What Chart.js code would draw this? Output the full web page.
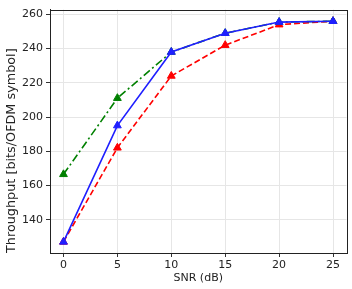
<!DOCTYPE html>
<html>
<head>
<meta charset="utf-8">
<script src="https://cdn.jsdelivr.net/npm/chart.js@4"></script>
<style>
  html, body { margin: 0; padding: 0; background: #fff; }
  #wrap { width: 352px; height: 289px; }
</style>
</head>
<body>
<div id="wrap"><canvas id="chart"></canvas></div>
<script>
// SNR points (dB)
const snr = [0, 5, 10, 15, 20, 25];
// throughput per curve [bits/OFDM symbol]
const blueVals = [127, 195, 238, 249, 255.5, 256];
const redVals = [127, 182, 224, 242, 254, 256];
const greenVals = [166.5, 211, 238, 249, 255.5, 256];
// tick labels
const yTicks = [140, 160, 180, 200, 220, 240, 260];
const xTicks = [0, 5, 10, 15, 20, 25];

const toPoints = vals => snr.map((x, i) => ({ x: x, y: vals[i] }));

const font = { family: 'DejaVu Sans', size: 11 };

// dark box round the plot area, like matplotlib spines
const frame = {
    id: 'frame',
    afterDraw(chart) {
        const a = chart.chartArea, c = chart.ctx;
        c.save();
        c.strokeStyle = '#222';
        c.lineWidth = 1;
        c.strokeRect(Math.round(a.left) + 0.5, Math.round(a.top) + 0.5,
            Math.round(a.right - a.left), Math.round(a.bottom - a.top));
        c.restore();
    }
};

// lower order is drawn on top
function line(label, vals, color, dash, order) {
    return {
        label: label,
        data: toPoints(vals),
        order: order,
        borderColor: color,
        backgroundColor: color,
        borderWidth: 1.6,
        borderDash: dash,
        pointStyle: 'triangle',
        pointRadius: 4.5,
        pointBorderWidth: 1,
        tension: 0
    };
}

new Chart(document.getElementById('chart').getContext('2d'), {
    type: 'scatter',
    data: {
        datasets: [
            line('red', redVals, '#ff0000', [6, 3], 3),
            line('green', greenVals, '#008000', [8, 3, 2, 3], 2),
            line('blue', blueVals, '#1f1fff', [], 1)
        ]
    },
    plugins: [frame],
    options: {
        responsive: true,
        maintainAspectRatio: false,
        animation: false,
        showLine: true,
        layout: { padding: { top: 3, right: 5, left: 0, bottom: 0 } },
        plugins: { legend: { display: false }, tooltip: { enabled: false } },
        scales: {
            x: {
                type: 'linear',
                min: -1.25,
                max: 26.25,
                afterBuildTicks: s => { s.ticks = xTicks.map(v => ({ value: v })); },
                afterFit: s => { s.height = 36; },
                ticks: { font: font, color: '#222', padding: 2, maxRotation: 0 },
                grid: { color: '#e6e6e6', tickColor: '#333', tickLength: 4 },
                border: { color: '#222' },
                title: { display: true, text: 'SNR (dB)', font: font, color: '#222', padding: { top: 4 } }
            },
            y: {
                min: 120.5,
                max: 262.8,
                afterBuildTicks: s => { s.ticks = yTicks.map(v => ({ value: v })); },
                afterFit: s => { s.width = 50; },
                ticks: { font: font, color: '#222', padding: 3 },
                grid: { color: '#e6e6e6', tickColor: '#333', tickLength: 4 },
                border: { color: '#222' },
                title: {
                    display: true, text: 'Throughput [bits/OFDM symbol]', align: 'start',
                    font: { family: 'DejaVu Sans', size: 12.8 }, color: '#222', padding: { top: 4, bottom: 0 }
                }
            }
        }
    }
});
</script>
</body>
</html>
